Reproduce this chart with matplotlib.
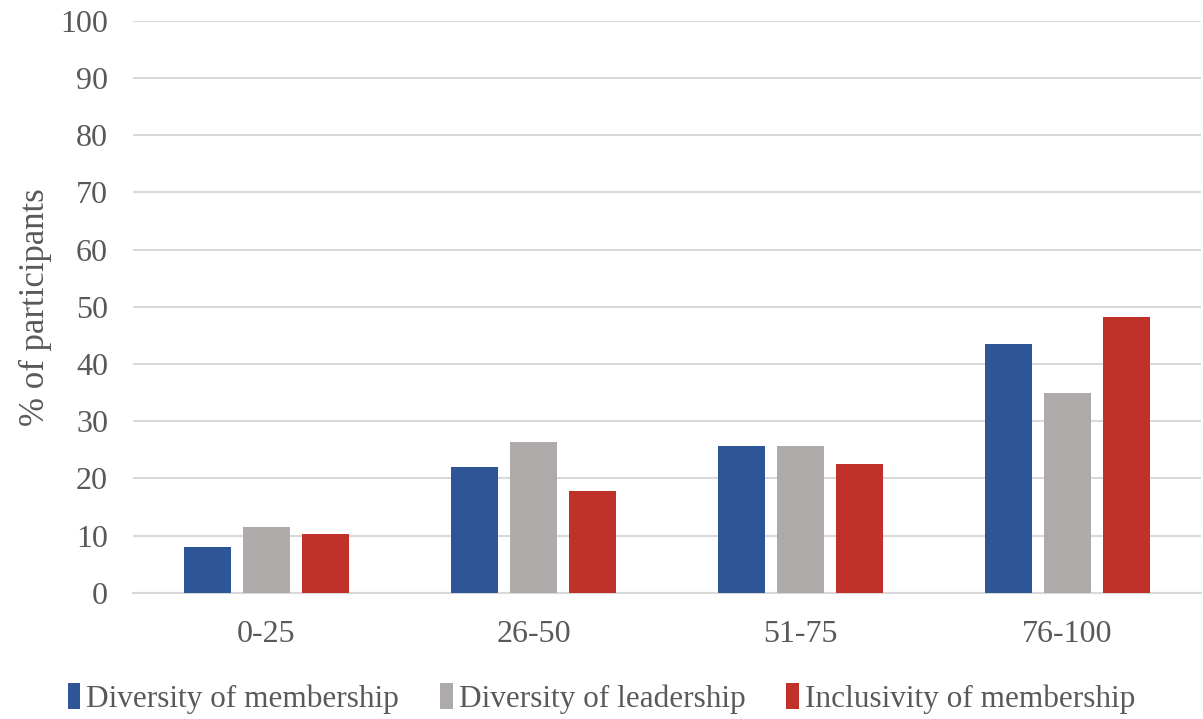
import matplotlib
matplotlib.use('Agg')
import matplotlib.pyplot as plt
import numpy as np

categories = ['0-25', '26-50', '51-75', '76-100']
series_names = ['Diversity of membership', 'Diversity of leadership', 'Inclusivity of membership']
membership = [8.0, 22.0, 25.6, 43.5]
leadership = [11.5, 26.4, 25.6, 35.0]
inclusivity = [10.2, 17.7, 22.5, 48.3]
colors = ['#2E5597', '#ADAAA9', '#C0312A']

plt.rcParams['font.family'] = ['Liberation Serif', 'DejaVu Serif']
text_color = '#595959'

fig = plt.figure(figsize=(12.03, 7.19), dpi=100)
ax = fig.add_axes([133 / 1203, 0.1757, (1201 - 133) / 1203, 0.7951])

x = np.arange(len(categories))
pitch = 0.22
width = 0.176
for i, (vals, name) in enumerate(zip([membership, leadership, inclusivity], series_names)):
    ax.bar(x + (i - 1) * pitch, vals, width, color=colors[i], label=name, zorder=3)

ax.set_xlim(-0.5, 3.5)
ax.set_ylim(0, 100)
ax.set_yticks(range(0, 101, 10))
ax.set_xticks(x)
ax.set_xticklabels(categories)
ax.tick_params(axis='both', length=0, labelsize=23, colors=text_color)
ax.tick_params(axis='y', pad=18)
ax.tick_params(axis='x', pad=20)
ax.grid(axis='y', color='#D9D9D9', linewidth=1.5, zorder=0)
for side in ['top', 'right', 'left']:
    ax.spines[side].set_visible(False)
ax.spines['bottom'].set_color('#D9D9D9')
ax.spines['bottom'].set_linewidth(1.5)
ax.set_ylabel('% of participants', fontsize=25, color=text_color, labelpad=6)

fig.legend(loc='center', bbox_to_anchor=(0.5, 0.028), ncol=3, frameon=False,
           fontsize=22.5, labelcolor=text_color, handlelength=0.4, handleheight=0.9,
           handletextpad=0.2, columnspacing=1.3)

fig.savefig('out.png', dpi=100)
